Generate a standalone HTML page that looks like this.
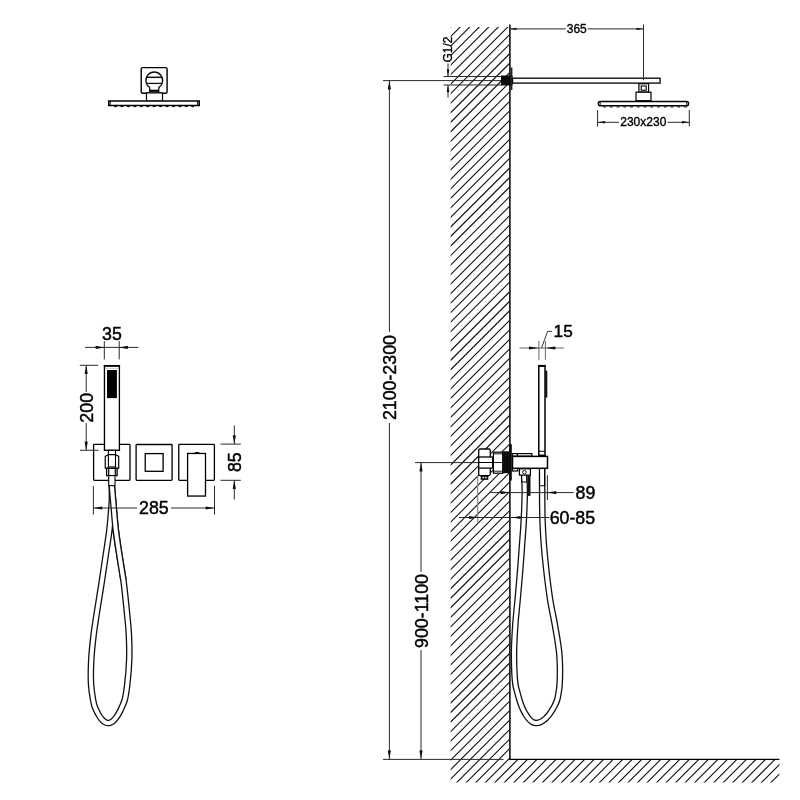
<!DOCTYPE html>
<html><head><meta charset="utf-8"><style>
html,body{margin:0;padding:0;background:#fff;}
svg{display:block;will-change:transform;}
text{font-family:"Liberation Sans",sans-serif;}
</style></head><body>
<svg width="800" height="800" viewBox="0 0 800 800">
<rect width="800" height="800" fill="#fff"/>
<filter id="hb" x="0" y="0" width="1" height="1"><feGaussianBlur stdDeviation="0.35"/></filter>
<clipPath id="hc"><path d="M450.7,27 L509.2,27 L509.2,759.4 L779.4,759.4 L779.4,782.4 L450.7,782.4 Z"/></clipPath>
<g clip-path="url(#hc)"><g filter="url(#hb)"><path d="M419.60,20 L-360.40,800 M429.12,20 L-350.88,800 M438.64,20 L-341.36,800 M448.16,20 L-331.84,800 M457.68,20 L-322.32,800 M467.20,20 L-312.80,800 M476.72,20 L-303.28,800 M486.24,20 L-293.76,800 M495.76,20 L-284.24,800 M505.28,20 L-274.72,800 M514.80,20 L-265.20,800 M524.32,20 L-255.68,800 M533.84,20 L-246.16,800 M543.36,20 L-236.64,800 M552.88,20 L-227.12,800 M562.40,20 L-217.60,800 M571.92,20 L-208.08,800 M581.44,20 L-198.56,800 M590.96,20 L-189.04,800 M600.48,20 L-179.52,800 M610.00,20 L-170.00,800 M619.52,20 L-160.48,800 M629.04,20 L-150.96,800 M638.56,20 L-141.44,800 M648.08,20 L-131.92,800 M657.60,20 L-122.40,800 M667.12,20 L-112.88,800 M676.64,20 L-103.36,800 M686.16,20 L-93.84,800 M695.68,20 L-84.32,800 M705.20,20 L-74.80,800 M714.72,20 L-65.28,800 M724.24,20 L-55.76,800 M733.76,20 L-46.24,800 M743.28,20 L-36.72,800 M752.80,20 L-27.20,800 M762.32,20 L-17.68,800 M771.84,20 L-8.16,800 M781.36,20 L1.36,800 M790.88,20 L10.88,800 M800.40,20 L20.40,800 M809.92,20 L29.92,800 M819.44,20 L39.44,800 M828.96,20 L48.96,800 M838.48,20 L58.48,800 M848.00,20 L68.00,800 M857.52,20 L77.52,800 M867.04,20 L87.04,800 M876.56,20 L96.56,800 M886.08,20 L106.08,800 M895.60,20 L115.60,800 M905.12,20 L125.12,800 M914.64,20 L134.64,800 M924.16,20 L144.16,800 M933.68,20 L153.68,800 M943.20,20 L163.20,800 M952.72,20 L172.72,800 M962.24,20 L182.24,800 M971.76,20 L191.76,800 M981.28,20 L201.28,800 M990.80,20 L210.80,800 M1000.32,20 L220.32,800 M1009.84,20 L229.84,800 M1019.36,20 L239.36,800 M1028.88,20 L248.88,800 M1038.40,20 L258.40,800 M1047.92,20 L267.92,800 M1057.44,20 L277.44,800 M1066.96,20 L286.96,800 M1076.48,20 L296.48,800 M1086.00,20 L306.00,800 M1095.52,20 L315.52,800 M1105.04,20 L325.04,800 M1114.56,20 L334.56,800 M1124.08,20 L344.08,800 M1133.60,20 L353.60,800 M1143.12,20 L363.12,800 M1152.64,20 L372.64,800 M1162.16,20 L382.16,800 M1171.68,20 L391.68,800 M1181.20,20 L401.20,800 M1190.72,20 L410.72,800 M1200.24,20 L420.24,800 M1209.76,20 L429.76,800 M1219.28,20 L439.28,800 M1228.80,20 L448.80,800 M1238.32,20 L458.32,800 M1247.84,20 L467.84,800 M1257.36,20 L477.36,800 M1266.88,20 L486.88,800 M1276.40,20 L496.40,800 M1285.92,20 L505.92,800 M1295.44,20 L515.44,800 M1304.96,20 L524.96,800 M1314.48,20 L534.48,800 M1324.00,20 L544.00,800 M1333.52,20 L553.52,800 M1343.04,20 L563.04,800 M1352.56,20 L572.56,800 M1362.08,20 L582.08,800 M1371.60,20 L591.60,800 M1381.12,20 L601.12,800 M1390.64,20 L610.64,800 M1400.16,20 L620.16,800 M1409.68,20 L629.68,800 M1419.20,20 L639.20,800 M1428.72,20 L648.72,800 M1438.24,20 L658.24,800 M1447.76,20 L667.76,800 M1457.28,20 L677.28,800 M1466.80,20 L686.80,800 M1476.32,20 L696.32,800 M1485.84,20 L705.84,800 M1495.36,20 L715.36,800 M1504.88,20 L724.88,800 M1514.40,20 L734.40,800 M1523.92,20 L743.92,800 M1533.44,20 L753.44,800 M1542.96,20 L762.96,800 M1552.48,20 L772.48,800 M1562.00,20 L782.00,800 M1571.52,20 L791.52,800 M1581.04,20 L801.04,800 M1590.56,20 L810.56,800 M1600.08,20 L820.08,800 M1609.60,20 L829.60,800 M1619.12,20 L839.12,800 M1628.64,20 L848.64,800 M1638.16,20 L858.16,800 M1647.68,20 L867.68,800 M1657.20,20 L877.20,800 M1666.72,20 L886.72,800 M1676.24,20 L896.24,800 M1685.76,20 L905.76,800 M1695.28,20 L915.28,800 M1704.80,20 L924.80,800 M1714.32,20 L934.32,800 M1723.84,20 L943.84,800 M1733.36,20 L953.36,800 M1742.88,20 L962.88,800 M1752.40,20 L972.40,800 M1761.92,20 L981.92,800 M1771.44,20 L991.44,800 M1780.96,20 L1000.96,800 M1790.48,20 L1010.48,800" stroke="#111" stroke-width="1.1" fill="none"/></g></g>
<line x1="509.90" y1="24.50" x2="509.90" y2="760.10" stroke="#000" stroke-width="1.5" />
<line x1="509.90" y1="759.40" x2="779.40" y2="759.40" stroke="#000" stroke-width="1.4" />
<line x1="383.00" y1="759.40" x2="503.50" y2="759.40" stroke="#2a2a2a" stroke-width="1.0" />
<rect x="141.20" y="67.60" width="25.90" height="25.70" rx="1.5" fill="#fff" stroke="#000" stroke-width="1.4"/>
<path d="M149.7,86.5 L149.7,92.5 M158.8,86.5 L158.8,92.5" stroke="#111" stroke-width="1.3"/>
<rect x="149.70" y="89.70" width="9.10" height="2.20" fill="#000"/>
<path d="M149.9,87.6 A8.4,8.4 0 1 1 158.6,87.6" fill="#fff" stroke="#111" stroke-width="1.3"/>
<path d="M146.3,77.3 L162.3,77.3" stroke="#111" stroke-width="1.5"/>
<path d="M146.1,83.4 L162.5,83.4" stroke="#111" stroke-width="1.3"/>
<rect x="146.50" y="92.90" width="16.00" height="8.40" rx="0" fill="#fff" stroke="#000" stroke-width="1.2"/>
<rect x="108.75" y="101.00" width="90.50" height="4.50" rx="0" fill="#fff" stroke="#000" stroke-width="1.5"/>
<line x1="110.20" y1="101.00" x2="110.20" y2="105.50" stroke="#000" stroke-width="1.0" />
<line x1="197.60" y1="101.00" x2="197.60" y2="105.50" stroke="#000" stroke-width="1.0" />
<path d="M113.90,106 A1.6,1.3 0 0 0 117.10,106 Z M120.34,106 A1.6,1.3 0 0 0 123.54,106 Z M126.78,106 A1.6,1.3 0 0 0 129.98,106 Z M133.22,106 A1.6,1.3 0 0 0 136.42,106 Z M139.66,106 A1.6,1.3 0 0 0 142.86,106 Z M146.10,106 A1.6,1.3 0 0 0 149.30,106 Z M152.54,106 A1.6,1.3 0 0 0 155.74,106 Z M158.98,106 A1.6,1.3 0 0 0 162.18,106 Z M165.42,106 A1.6,1.3 0 0 0 168.62,106 Z M171.86,106 A1.6,1.3 0 0 0 175.06,106 Z M178.30,106 A1.6,1.3 0 0 0 181.50,106 Z M184.74,106 A1.6,1.3 0 0 0 187.94,106 Z M191.18,106 A1.6,1.3 0 0 0 194.38,106 Z " fill="#111"/>
<path d="M111.85,485.60 C111.85,490.40 111.99,495.64 111.85,500.00 C111.73,503.64 111.50,506.10 111.20,510.00 C110.77,515.53 110.23,522.97 109.40,530.00 C108.47,537.88 106.97,546.67 105.75,555.00 C104.52,563.33 103.43,570.97 102.05,580.00 C100.41,590.69 98.03,604.95 96.50,615.00 C95.35,622.59 94.44,627.95 93.60,635.00 C92.66,642.86 91.67,651.66 91.25,660.00 C90.83,668.32 90.64,677.74 91.10,685.00 C91.46,690.65 92.38,696.06 93.10,700.00 C93.58,702.60 93.93,704.43 94.60,706.42 C95.21,708.23 96.07,709.89 96.85,711.48 C97.57,712.95 98.31,714.35 99.10,715.63 C99.82,716.79 100.56,717.90 101.35,718.85 C102.07,719.72 102.81,720.53 103.60,721.16 C104.32,721.73 105.07,722.23 105.85,722.54 C106.58,722.83 107.35,722.99 108.10,723.00 C108.85,723.01 109.62,722.84 110.35,722.57 C111.12,722.29 111.88,721.83 112.60,721.30 C113.39,720.72 114.13,719.97 114.85,719.17 C115.64,718.29 116.38,717.27 117.10,716.20 C117.89,715.02 118.63,713.72 119.35,712.37 C120.13,710.90 120.82,709.46 121.60,707.69 C122.59,705.46 123.84,703.04 124.70,700.00 C125.86,695.88 126.50,690.65 127.20,685.00 C128.09,677.74 128.92,668.34 129.20,660.00 C129.48,651.67 129.28,642.86 128.90,635.00 C128.56,627.96 127.93,622.59 127.20,615.00 C126.23,604.95 124.83,590.67 123.40,580.00 C122.19,570.95 120.67,563.34 119.40,555.00 C118.13,546.67 116.78,538.35 115.80,530.00 C114.82,521.68 114.19,512.81 113.50,505.00 C112.89,498.13 112.40,492.07 111.85,485.60" fill="none" stroke="#111" stroke-width="6.6" stroke-linecap="butt" stroke-linejoin="round"/>
<path d="M111.85,485.60 C111.85,490.40 111.99,495.64 111.85,500.00 C111.73,503.64 111.50,506.10 111.20,510.00 C110.77,515.53 110.23,522.97 109.40,530.00 C108.47,537.88 106.97,546.67 105.75,555.00 C104.52,563.33 103.43,570.97 102.05,580.00 C100.41,590.69 98.03,604.95 96.50,615.00 C95.35,622.59 94.44,627.95 93.60,635.00 C92.66,642.86 91.67,651.66 91.25,660.00 C90.83,668.32 90.64,677.74 91.10,685.00 C91.46,690.65 92.38,696.06 93.10,700.00 C93.58,702.60 93.93,704.43 94.60,706.42 C95.21,708.23 96.07,709.89 96.85,711.48 C97.57,712.95 98.31,714.35 99.10,715.63 C99.82,716.79 100.56,717.90 101.35,718.85 C102.07,719.72 102.81,720.53 103.60,721.16 C104.32,721.73 105.07,722.23 105.85,722.54 C106.58,722.83 107.35,722.99 108.10,723.00 C108.85,723.01 109.62,722.84 110.35,722.57 C111.12,722.29 111.88,721.83 112.60,721.30 C113.39,720.72 114.13,719.97 114.85,719.17 C115.64,718.29 116.38,717.27 117.10,716.20 C117.89,715.02 118.63,713.72 119.35,712.37 C120.13,710.90 120.82,709.46 121.60,707.69 C122.59,705.46 123.84,703.04 124.70,700.00 C125.86,695.88 126.50,690.65 127.20,685.00 C128.09,677.74 128.92,668.34 129.20,660.00 C129.48,651.67 129.28,642.86 128.90,635.00 C128.56,627.96 127.93,622.59 127.20,615.00 C126.23,604.95 124.83,590.67 123.40,580.00 C122.19,570.95 120.67,563.34 119.40,555.00 C118.13,546.67 116.78,538.35 115.80,530.00 C114.82,521.68 114.19,512.81 113.50,505.00 C112.89,498.13 112.40,492.07 111.85,485.60" fill="none" stroke="#fff" stroke-width="4.0" stroke-linecap="butt" stroke-linejoin="round"/>
<path d="M111.85,485.60 C112.40,492.07 112.89,498.13 113.50,505.00 C114.19,512.81 114.82,521.68 115.80,530.00 C116.78,538.35 118.13,546.67 119.40,555.00 C120.67,563.34 122.07,571.67 123.40,580.00" fill="none" stroke="#111" stroke-width="6.6" stroke-linecap="butt" stroke-linejoin="round"/>
<path d="M111.85,485.60 C112.40,492.07 112.89,498.13 113.50,505.00 C114.19,512.81 114.82,521.68 115.80,530.00 C116.78,538.35 118.13,546.67 119.40,555.00 C120.67,563.34 122.07,571.67 123.40,580.00" fill="none" stroke="#fff" stroke-width="4.0" stroke-linecap="butt" stroke-linejoin="round"/>
<rect x="93.60" y="444.45" width="36.40" height="35.95" rx="0.8" fill="#fff" stroke="#000" stroke-width="1.3"/>
<rect x="136.10" y="444.50" width="36.00" height="35.90" rx="0.8" fill="#fff" stroke="#000" stroke-width="1.3"/>
<rect x="145.25" y="453.60" width="17.85" height="17.70" rx="0" fill="#fff" stroke="#000" stroke-width="1.3"/>
<rect x="178.75" y="444.45" width="35.65" height="35.95" rx="0.8" fill="#fff" stroke="#000" stroke-width="1.3"/>
<rect x="187.60" y="453.45" width="17.90" height="42.60" rx="0" fill="#fff" stroke="#000" stroke-width="1.3"/>
<path d="M194.5,453.0 Q197,451.6 199.5,453.0" fill="none" stroke="#000" stroke-width="1"/>
<rect x="104.45" y="365.85" width="14.95" height="84.45" rx="0" fill="#fff" stroke="#000" stroke-width="1.35"/>
<line x1="103.80" y1="365.85" x2="120.10" y2="365.85" stroke="#000" stroke-width="1.8" />
<rect x="107.00" y="370.00" width="9.90" height="28.10" fill="#000"/>
<line x1="105.50" y1="368.40" x2="118.30" y2="368.40" stroke="#aaa" stroke-width="0.6" />
<rect x="108.40" y="450.30" width="7.10" height="4.30" rx="0" fill="#fff" stroke="#000" stroke-width="1.1"/>
<path d="M105.25,468.25 L105.25,456.4 L108.4,454.6 L115.5,454.6 L118.7,456.4 L118.7,468.25 Z" fill="#fff" stroke="#000" stroke-width="1.2"/>
<line x1="108.40" y1="455.00" x2="108.40" y2="468.25" stroke="#000" stroke-width="1.1" />
<line x1="115.50" y1="455.00" x2="115.50" y2="468.25" stroke="#000" stroke-width="1.1" />
<line x1="108.40" y1="466.90" x2="115.50" y2="466.90" stroke="#000" stroke-width="1.0" />
<rect x="106.60" y="468.25" width="10.50" height="7.35" rx="0" fill="#fff" stroke="#000" stroke-width="1.3"/>
<line x1="108.70" y1="469.00" x2="108.70" y2="475.00" stroke="#000" stroke-width="1.2" />
<line x1="115.30" y1="469.00" x2="115.30" y2="475.00" stroke="#000" stroke-width="1.2" />
<rect x="108.70" y="475.60" width="6.30" height="10.00" rx="0" fill="#fff" stroke="#000" stroke-width="1.1"/>
<line x1="85.00" y1="347.40" x2="138.40" y2="347.40" stroke="#2a2a2a" stroke-width="1.0" />
<line x1="104.30" y1="341.00" x2="104.30" y2="359.40" stroke="#2a2a2a" stroke-width="1.0" />
<line x1="119.20" y1="341.00" x2="119.20" y2="359.40" stroke="#2a2a2a" stroke-width="1.0" />
<path d="M104.30,347.40 L95.80,349.00 Q95.20,347.40 95.80,345.80 Z" fill="#111"/>
<path d="M119.20,347.40 L127.70,345.80 Q128.30,347.40 127.70,349.00 Z" fill="#111"/>
<text x="112.00" y="339.50" font-size="17.8" text-anchor="middle" fill="#000" stroke="#000" stroke-width="0.45">35</text>
<line x1="79.80" y1="365.30" x2="98.20" y2="365.30" stroke="#2a2a2a" stroke-width="1.0" />
<line x1="80.00" y1="450.25" x2="98.50" y2="450.25" stroke="#2a2a2a" stroke-width="1.0" />
<line x1="86.20" y1="365.30" x2="86.20" y2="392.00" stroke="#2a2a2a" stroke-width="1.0" />
<line x1="86.20" y1="423.00" x2="86.20" y2="450.25" stroke="#2a2a2a" stroke-width="1.0" />
<path d="M86.20,365.30 L87.80,373.80 Q86.20,374.40 84.60,373.80 Z" fill="#111"/>
<path d="M86.20,450.25 L84.60,441.75 Q86.20,441.15 87.80,441.75 Z" fill="#111"/>
<text transform="translate(92.90,407.80) rotate(-90)" font-size="17.8" text-anchor="middle" fill="#000" stroke="#000" stroke-width="0.45">200</text>
<line x1="220.50" y1="444.10" x2="240.80" y2="444.10" stroke="#2a2a2a" stroke-width="1.0" />
<line x1="220.50" y1="480.30" x2="240.80" y2="480.30" stroke="#2a2a2a" stroke-width="1.0" />
<line x1="234.30" y1="425.50" x2="234.30" y2="444.10" stroke="#2a2a2a" stroke-width="1.0" />
<line x1="234.30" y1="480.30" x2="234.30" y2="499.60" stroke="#2a2a2a" stroke-width="1.0" />
<path d="M234.30,444.10 L232.70,435.60 Q234.30,435.00 235.90,435.60 Z" fill="#111"/>
<path d="M234.30,480.30 L235.90,488.80 Q234.30,489.40 232.70,488.80 Z" fill="#111"/>
<text transform="translate(240.60,462.20) rotate(-90)" font-size="17.8" text-anchor="middle" fill="#000" stroke="#000" stroke-width="0.45">85</text>
<line x1="93.40" y1="486.00" x2="93.40" y2="514.50" stroke="#2a2a2a" stroke-width="1.0" />
<line x1="214.50" y1="486.00" x2="214.50" y2="514.50" stroke="#2a2a2a" stroke-width="1.0" />
<line x1="93.40" y1="508.00" x2="137.00" y2="508.00" stroke="#2a2a2a" stroke-width="1.0" />
<line x1="171.00" y1="508.00" x2="214.50" y2="508.00" stroke="#2a2a2a" stroke-width="1.0" />
<path d="M93.60,508.00 L102.10,506.40 Q102.70,508.00 102.10,509.60 Z" fill="#111"/>
<path d="M214.30,508.00 L205.80,509.60 Q205.20,508.00 205.80,506.40 Z" fill="#111"/>
<text x="153.85" y="514.30" font-size="17.8" text-anchor="middle" fill="#000" stroke="#000" stroke-width="0.45">285</text>
<path d="M524.15,475.50 C524.35,480.33 524.72,484.30 524.75,490.00 C524.79,498.20 524.28,510.46 523.80,520.00 C523.36,528.72 522.65,536.67 522.05,545.00 C521.45,553.33 520.90,561.29 520.20,570.00 C519.43,579.55 518.45,590.46 517.60,600.00 C516.82,608.71 515.89,616.28 515.30,625.00 C514.66,634.54 513.97,645.00 514.00,655.00 C514.03,665.00 514.67,679.22 515.50,685.00 C515.84,687.39 516.20,688.05 516.70,690.00 C517.41,692.77 518.54,697.08 519.45,700.00 C520.17,702.32 520.83,704.28 521.60,706.18 C522.29,707.88 523.04,709.41 523.80,710.90 C524.51,712.28 525.24,713.61 526.00,714.84 C526.71,715.97 527.43,717.05 528.20,718.01 C528.90,718.89 529.63,719.71 530.40,720.40 C531.10,721.03 531.84,721.60 532.60,722.02 C533.31,722.41 534.05,722.71 534.80,722.86 C535.52,723.01 536.27,723.02 537.00,722.96 C537.74,722.90 538.48,722.74 539.20,722.52 C539.94,722.29 540.68,721.97 541.40,721.60 C542.15,721.20 542.88,720.72 543.60,720.19 C544.35,719.63 545.09,718.98 545.80,718.30 C546.55,717.57 547.29,716.77 548.00,715.92 C548.75,715.03 549.48,714.06 550.20,713.06 C550.95,712.00 551.68,710.88 552.40,709.72 C553.15,708.49 553.89,707.32 554.60,705.89 C555.46,704.16 556.41,702.26 557.10,700.00 C557.97,697.15 558.57,692.77 559.00,690.00 C559.30,688.05 559.47,687.37 559.60,685.00 C559.93,679.21 560.18,664.97 559.40,655.00 C558.62,644.97 556.51,634.53 554.90,625.00 C553.43,616.27 551.59,608.73 550.20,600.00 C548.69,590.48 547.38,579.55 546.30,570.00 C545.32,561.30 544.53,553.34 543.90,545.00 C543.27,536.67 542.79,528.72 542.50,520.00 C542.18,510.46 542.21,499.11 542.15,490.00 C542.10,482.38 542.12,476.00 542.10,469.00" fill="none" stroke="#111" stroke-width="6.6" stroke-linecap="butt" stroke-linejoin="round"/>
<path d="M524.15,475.50 C524.35,480.33 524.72,484.30 524.75,490.00 C524.79,498.20 524.28,510.46 523.80,520.00 C523.36,528.72 522.65,536.67 522.05,545.00 C521.45,553.33 520.90,561.29 520.20,570.00 C519.43,579.55 518.45,590.46 517.60,600.00 C516.82,608.71 515.89,616.28 515.30,625.00 C514.66,634.54 513.97,645.00 514.00,655.00 C514.03,665.00 514.67,679.22 515.50,685.00 C515.84,687.39 516.20,688.05 516.70,690.00 C517.41,692.77 518.54,697.08 519.45,700.00 C520.17,702.32 520.83,704.28 521.60,706.18 C522.29,707.88 523.04,709.41 523.80,710.90 C524.51,712.28 525.24,713.61 526.00,714.84 C526.71,715.97 527.43,717.05 528.20,718.01 C528.90,718.89 529.63,719.71 530.40,720.40 C531.10,721.03 531.84,721.60 532.60,722.02 C533.31,722.41 534.05,722.71 534.80,722.86 C535.52,723.01 536.27,723.02 537.00,722.96 C537.74,722.90 538.48,722.74 539.20,722.52 C539.94,722.29 540.68,721.97 541.40,721.60 C542.15,721.20 542.88,720.72 543.60,720.19 C544.35,719.63 545.09,718.98 545.80,718.30 C546.55,717.57 547.29,716.77 548.00,715.92 C548.75,715.03 549.48,714.06 550.20,713.06 C550.95,712.00 551.68,710.88 552.40,709.72 C553.15,708.49 553.89,707.32 554.60,705.89 C555.46,704.16 556.41,702.26 557.10,700.00 C557.97,697.15 558.57,692.77 559.00,690.00 C559.30,688.05 559.47,687.37 559.60,685.00 C559.93,679.21 560.18,664.97 559.40,655.00 C558.62,644.97 556.51,634.53 554.90,625.00 C553.43,616.27 551.59,608.73 550.20,600.00 C548.69,590.48 547.38,579.55 546.30,570.00 C545.32,561.30 544.53,553.34 543.90,545.00 C543.27,536.67 542.79,528.72 542.50,520.00 C542.18,510.46 542.21,499.11 542.15,490.00 C542.10,482.38 542.12,476.00 542.10,469.00" fill="none" stroke="#fff" stroke-width="4.0" stroke-linecap="butt" stroke-linejoin="round"/>
<line x1="443.50" y1="76.50" x2="501.00" y2="76.50" stroke="#2a2a2a" stroke-width="1.0" />
<line x1="443.50" y1="85.00" x2="501.00" y2="85.00" stroke="#2a2a2a" stroke-width="1.0" />
<line x1="383.00" y1="80.60" x2="501.00" y2="80.60" stroke="#2a2a2a" stroke-width="1.0" />
<line x1="448.00" y1="63.50" x2="448.00" y2="76.50" stroke="#2a2a2a" stroke-width="1.0" />
<line x1="448.00" y1="85.00" x2="448.00" y2="97.50" stroke="#2a2a2a" stroke-width="1.0" />
<path d="M448.00,76.50 L446.70,69.50 Q448.00,68.90 449.30,69.50 Z" fill="#111"/>
<path d="M448.00,85.00 L449.30,92.00 Q448.00,92.60 446.70,92.00 Z" fill="#111"/>
<text transform="translate(451.80,49.50) rotate(-90)" font-size="12" text-anchor="middle" fill="#000" stroke="#000" stroke-width="0.35">G1/2</text>
<rect x="501.00" y="75.50" width="11.50" height="10.00" fill="#0a0a0a"/>
<rect x="510.40" y="67.50" width="2.00" height="22.50" fill="#222"/>
<rect x="512.50" y="78.20" width="147.60" height="4.90" rx="0" fill="#fff" stroke="#000" stroke-width="1.3"/>
<line x1="643.50" y1="24.40" x2="643.50" y2="80.30" stroke="#2a2a2a" stroke-width="1.0" />
<line x1="509.50" y1="28.90" x2="565.70" y2="28.90" stroke="#2a2a2a" stroke-width="1.0" />
<line x1="587.60" y1="28.90" x2="643.50" y2="28.90" stroke="#2a2a2a" stroke-width="1.0" />
<path d="M509.80,28.90 L516.30,27.70 Q516.90,28.90 516.30,30.10 Z" fill="#111"/>
<path d="M643.20,28.90 L636.70,30.10 Q636.10,28.90 636.70,27.70 Z" fill="#111"/>
<text x="576.75" y="32.60" font-size="12" text-anchor="middle" fill="#000" stroke="#000" stroke-width="0.35">365</text>
<rect x="638.90" y="83.75" width="9.70" height="8.30" rx="0" fill="#fff" stroke="#000" stroke-width="1.2"/>
<rect x="641.20" y="86.00" width="5.00" height="4.20" rx="0" fill="#fff" stroke="#000" stroke-width="1.1"/>
<rect x="636.00" y="92.20" width="15.00" height="8.50" rx="0" fill="#fff" stroke="#000" stroke-width="1.2"/>
<rect x="598.30" y="101.50" width="90.30" height="4.30" rx="2.1" fill="#fff" stroke="#000" stroke-width="1.4"/>
<line x1="600.20" y1="101.50" x2="600.20" y2="105.80" stroke="#000" stroke-width="0.9" />
<line x1="686.70" y1="101.50" x2="686.70" y2="105.80" stroke="#000" stroke-width="0.9" />
<path d="M602.90,106.4 A1.6,1.2 0 0 0 606.10,106.4 Z M609.65,106.4 A1.6,1.2 0 0 0 612.85,106.4 Z M616.40,106.4 A1.6,1.2 0 0 0 619.60,106.4 Z M623.15,106.4 A1.6,1.2 0 0 0 626.35,106.4 Z M629.90,106.4 A1.6,1.2 0 0 0 633.10,106.4 Z M636.65,106.4 A1.6,1.2 0 0 0 639.85,106.4 Z M643.40,106.4 A1.6,1.2 0 0 0 646.60,106.4 Z M650.15,106.4 A1.6,1.2 0 0 0 653.35,106.4 Z M656.90,106.4 A1.6,1.2 0 0 0 660.10,106.4 Z M663.65,106.4 A1.6,1.2 0 0 0 666.85,106.4 Z M670.40,106.4 A1.6,1.2 0 0 0 673.60,106.4 Z M677.15,106.4 A1.6,1.2 0 0 0 680.35,106.4 Z M683.90,106.4 A1.6,1.2 0 0 0 687.10,106.4 Z " fill="#111"/>
<line x1="597.60" y1="110.00" x2="597.60" y2="126.40" stroke="#2a2a2a" stroke-width="1.0" />
<line x1="689.30" y1="110.00" x2="689.30" y2="126.40" stroke="#2a2a2a" stroke-width="1.0" />
<line x1="597.60" y1="122.30" x2="619.00" y2="122.30" stroke="#2a2a2a" stroke-width="1.0" />
<line x1="667.50" y1="122.30" x2="689.30" y2="122.30" stroke="#2a2a2a" stroke-width="1.0" />
<path d="M597.90,122.30 L604.90,121.00 Q605.50,122.30 604.90,123.60 Z" fill="#111"/>
<path d="M689.00,122.30 L682.00,123.60 Q681.40,122.30 682.00,121.00 Z" fill="#111"/>
<text x="643.30" y="126.30" font-size="12" text-anchor="middle" fill="#000" stroke="#000" stroke-width="0.35">230x230</text>
<line x1="389.40" y1="80.60" x2="389.40" y2="332.00" stroke="#2a2a2a" stroke-width="1.0" />
<line x1="389.40" y1="423.00" x2="389.40" y2="759.40" stroke="#2a2a2a" stroke-width="1.0" />
<path d="M389.40,80.80 L391.00,89.30 Q389.40,89.90 387.80,89.30 Z" fill="#111"/>
<path d="M389.40,759.00 L387.80,750.50 Q389.40,749.90 391.00,750.50 Z" fill="#111"/>
<text transform="translate(396.20,377.60) rotate(-90)" font-size="17.8" text-anchor="middle" fill="#000" stroke="#000" stroke-width="0.45">2100-2300</text>
<line x1="415.00" y1="462.60" x2="478.00" y2="462.60" stroke="#2a2a2a" stroke-width="1.0" />
<line x1="421.00" y1="462.60" x2="421.00" y2="572.00" stroke="#2a2a2a" stroke-width="1.0" />
<line x1="421.00" y1="650.00" x2="421.00" y2="759.40" stroke="#2a2a2a" stroke-width="1.0" />
<path d="M421.00,462.80 L422.60,471.30 Q421.00,471.90 419.40,471.30 Z" fill="#111"/>
<path d="M421.00,759.00 L419.40,750.50 Q421.00,749.90 422.60,750.50 Z" fill="#111"/>
<text transform="translate(427.70,611.00) rotate(-90)" font-size="17.8" text-anchor="middle" fill="#000" stroke="#000" stroke-width="0.45">900-1100</text>
<rect x="478.70" y="449.00" width="11.60" height="26.60" rx="1.5" fill="#fff" stroke="#000" stroke-width="1.3"/>
<rect x="478.70" y="457.00" width="13.90" height="11.10" rx="0" fill="#fff" stroke="#000" stroke-width="1.3"/>
<line x1="478.70" y1="462.50" x2="492.60" y2="462.50" stroke="#000" stroke-width="1.0" />
<rect x="481.30" y="476.00" width="6.40" height="3.20" rx="0" fill="#333" stroke="#000" stroke-width="1.2"/>
<circle cx="483.2" cy="477.6" r="0.8" fill="#fff"/><circle cx="485.8" cy="477.6" r="0.8" fill="#fff"/>
<rect x="493.40" y="452.20" width="9.30" height="21.00" rx="0" fill="#fff" stroke="#000" stroke-width="1.2"/>
<line x1="493.40" y1="453.80" x2="502.70" y2="453.80" stroke="#000" stroke-width="0.9" />
<line x1="493.40" y1="471.20" x2="502.70" y2="471.20" stroke="#000" stroke-width="0.9" />
<line x1="493.40" y1="462.50" x2="502.70" y2="462.50" stroke="#000" stroke-width="0.9" />
<rect x="502.70" y="451.30" width="6.90" height="21.90" fill="#0c0c0c"/>
<rect x="509.40" y="444.20" width="2.40" height="36.30" fill="#0a0a0a"/>
<rect x="512.30" y="453.60" width="19.60" height="2.60" rx="0" fill="#fff" stroke="#000" stroke-width="1.2"/>
<line x1="517.40" y1="453.60" x2="517.40" y2="456.20" stroke="#000" stroke-width="1.2" />
<rect x="512.30" y="468.50" width="5.40" height="2.50" rx="0" fill="#fff" stroke="#000" stroke-width="1.2"/>
<rect x="512.50" y="456.40" width="35.00" height="11.90" rx="0" fill="#fff" stroke="#000" stroke-width="1.5"/>
<rect x="538.80" y="365.80" width="6.20" height="89.50" rx="0" fill="#fff" stroke="#000" stroke-width="1.5"/>
<line x1="538.10" y1="365.90" x2="545.60" y2="365.90" stroke="#000" stroke-width="2.0" />
<rect x="545.20" y="370.60" width="2.10" height="27.00" fill="#111"/>
<line x1="538.80" y1="451.30" x2="545.00" y2="451.30" stroke="#000" stroke-width="1.0" />
<rect x="519.40" y="468.80" width="11.00" height="6.30" rx="0" fill="#fff" stroke="#000" stroke-width="1.2"/>
<circle cx="524.4" cy="472.2" r="1.8" fill="#fff" stroke="#111" stroke-width="1"/>
<line x1="521.50" y1="475.00" x2="521.50" y2="482.00" stroke="#000" stroke-width="1.0" />
<line x1="526.80" y1="475.00" x2="526.80" y2="482.00" stroke="#000" stroke-width="1.0" />
<line x1="521.50" y1="482.00" x2="526.80" y2="482.00" stroke="#000" stroke-width="1.0" />
<rect x="527.70" y="475.20" width="2.80" height="20.70" fill="#111"/>
<line x1="539.50" y1="468.50" x2="539.50" y2="486.00" stroke="#000" stroke-width="1.0" />
<line x1="544.70" y1="468.50" x2="544.70" y2="486.00" stroke="#000" stroke-width="1.0" />
<line x1="539.50" y1="485.75" x2="544.70" y2="485.75" stroke="#000" stroke-width="1.0" />
<line x1="519.60" y1="348.00" x2="564.20" y2="348.00" stroke="#555" stroke-width="0.9" />
<line x1="538.90" y1="341.00" x2="538.90" y2="359.80" stroke="#555" stroke-width="0.9" />
<line x1="545.40" y1="341.00" x2="545.40" y2="359.80" stroke="#555" stroke-width="0.9" />
<path d="M538.90,348.00 L529.10,349.50 Q528.50,348.00 529.10,346.50 Z" fill="#111"/>
<path d="M545.40,348.00 L555.20,346.50 Q555.80,348.00 555.20,349.50 Z" fill="#111"/>
<path d="M541.5,348 L547.6,331.4 L552,331.4" fill="none" stroke="#222" stroke-width="0.9"/>
<text x="563.15" y="337.00" font-size="17.2" text-anchor="middle" fill="#000" stroke="#000" stroke-width="0.45">15</text>
<line x1="547.40" y1="475.25" x2="547.40" y2="500.00" stroke="#2a2a2a" stroke-width="1.0" />
<line x1="490.30" y1="492.60" x2="573.70" y2="492.60" stroke="#2a2a2a" stroke-width="1.0" />
<path d="M509.30,492.60 L500.80,494.20 Q500.20,492.60 500.80,491.00 Z" fill="#111"/>
<path d="M547.60,492.60 L556.10,491.00 Q556.70,492.60 556.10,494.20 Z" fill="#111"/>
<text x="585.50" y="498.50" font-size="17.8" text-anchor="middle" fill="#000" stroke="#000" stroke-width="0.45">89</text>
<line x1="477.70" y1="476.00" x2="477.70" y2="522.00" stroke="#888" stroke-width="1.2" />
<line x1="459.00" y1="517.50" x2="549.30" y2="517.50" stroke="#2a2a2a" stroke-width="1.0" />
<path d="M477.70,517.50 L469.20,519.10 Q468.60,517.50 469.20,515.90 Z" fill="#111"/>
<path d="M512.00,517.50 L520.50,515.90 Q521.10,517.50 520.50,519.10 Z" fill="#111"/>
<text x="572.40" y="523.70" font-size="17.8" text-anchor="middle" fill="#000" stroke="#000" stroke-width="0.45">60-85</text>
</svg>
</body></html>
